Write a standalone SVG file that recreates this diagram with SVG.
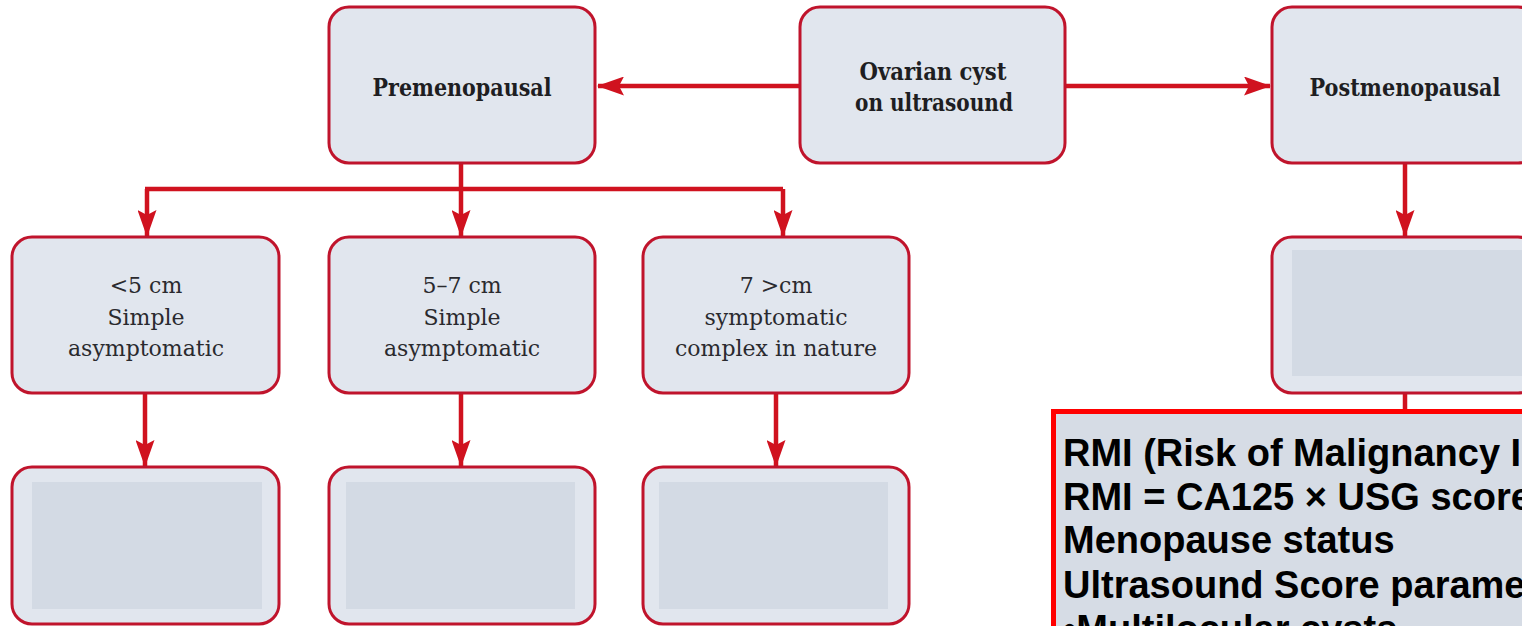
<svg xmlns="http://www.w3.org/2000/svg" width="1522" height="626" viewBox="0 0 1522 626">
<style>
.box{fill:#e1e6ee;stroke:#c0142c;stroke-width:3}
.inner{fill:#d3dae4}
.con{stroke:#d0121f;stroke-width:4.5;fill:none}
.t1{font-family:"DejaVu Serif",serif;font-weight:bold;font-size:25px;fill:#1e1e22;text-anchor:middle}
.t2{font-family:"DejaVu Serif",serif;font-size:22px;fill:#2a2a2e;text-anchor:middle}
.rmi{font-family:"Liberation Sans",Arial,sans-serif;font-weight:bold;font-size:38px;fill:#000}
</style>
<defs>
<marker id="ah" markerUnits="userSpaceOnUse" markerWidth="27" markerHeight="19" refX="26" refY="9.5" orient="auto">
<path d="M0,0 L27,9.5 L0,19 L5,9.5 z" fill="#d0121f"/>
</marker>
</defs>
<rect width="1522" height="626" fill="#fff"/>
<g id="connectors">
<line class="con" x1="800" y1="86" x2="598" y2="86" marker-end="url(#ah)"/>
<line class="con" x1="1065" y1="86" x2="1270" y2="86" marker-end="url(#ah)"/>
<line class="con" x1="461" y1="163" x2="461" y2="189"/>
<line class="con" x1="145" y1="189" x2="783" y2="189"/>
<line class="con" x1="147" y1="189" x2="147" y2="236" marker-end="url(#ah)"/>
<line class="con" x1="461" y1="189" x2="461" y2="236" marker-end="url(#ah)"/>
<line class="con" x1="783" y1="189" x2="783" y2="236" marker-end="url(#ah)"/>
<line class="con" x1="145" y1="393" x2="145" y2="466" marker-end="url(#ah)"/>
<line class="con" x1="461" y1="393" x2="461" y2="466" marker-end="url(#ah)"/>
<line class="con" x1="776" y1="393" x2="776" y2="466" marker-end="url(#ah)"/>
<line class="con" x1="1405" y1="163" x2="1405" y2="236" marker-end="url(#ah)"/>
<line class="con" x1="1405" y1="393" x2="1405" y2="410"/>
</g>
<g id="premenopausal">
<rect class="box" x="329" y="7" width="266" height="156" rx="20"/>
<text class="t1" x="462" y="96" textLength="179" lengthAdjust="spacingAndGlyphs">Premenopausal</text>
</g>
<g id="ovarian">
<rect class="box" x="800" y="7" width="265" height="156" rx="20"/>
<text class="t1" x="933" y="80" textLength="147" lengthAdjust="spacingAndGlyphs">Ovarian cyst</text>
<text class="t1" x="934" y="111" textLength="158" lengthAdjust="spacingAndGlyphs">on ultrasound</text>
</g>
<g id="postmenopausal">
<rect class="box" x="1272" y="7" width="266" height="156" rx="20"/>
<text class="t1" x="1405" y="96" textLength="191" lengthAdjust="spacingAndGlyphs">Postmenopausal</text>
</g>
<g id="lt5">
<rect class="box" x="12" y="237" width="267" height="156" rx="20"/>
<text class="t2" x="146" y="293">&lt;5 cm</text>
<text class="t2" x="146" y="325">Simple</text>
<text class="t2" x="146" y="356">asymptomatic</text>
</g>
<g id="r5to7">
<rect class="box" x="329" y="237" width="266" height="156" rx="20"/>
<text class="t2" x="462" y="293">5–7 cm</text>
<text class="t2" x="462" y="325">Simple</text>
<text class="t2" x="462" y="356">asymptomatic</text>
</g>
<g id="gt7">
<rect class="box" x="643" y="237" width="266" height="156" rx="20"/>
<text class="t2" x="776" y="293">7 &gt;cm</text>
<text class="t2" x="776" y="325">symptomatic</text>
<text class="t2" x="776" y="356">complex in nature</text>
</g>
<g id="post2">
<rect class="box" x="1272" y="237" width="266" height="156" rx="20"/>
<rect class="inner" x="1292" y="250" width="240" height="126"/>
</g>
<g id="out1">
<rect class="box" x="12" y="467" width="267" height="157" rx="20"/>
<rect class="inner" x="32" y="482" width="230" height="127"/>
</g>
<g id="out2">
<rect class="box" x="329" y="467" width="266" height="157" rx="20"/>
<rect class="inner" x="346" y="482" width="229" height="127"/>
</g>
<g id="out3">
<rect class="box" x="643" y="467" width="266" height="157" rx="20"/>
<rect class="inner" x="659" y="482" width="229" height="127"/>
</g>
<g id="rmi">
<rect x="1053.5" y="411.5" width="500" height="260" fill="#d6dce5" stroke="#ff0000" stroke-width="5"/>
<text class="rmi" x="1063" y="466">RMI (Risk of Malignancy Index)</text>
<text class="rmi" x="1063" y="510">RMI = CA125 × USG score ×</text>
<text class="rmi" x="1063" y="553">Menopause status</text>
<text class="rmi" x="1063" y="598">Ultrasound Score parameters</text>
<text class="rmi" x="1063" y="642">•Multilocular cysts</text>
</g>
</svg>
